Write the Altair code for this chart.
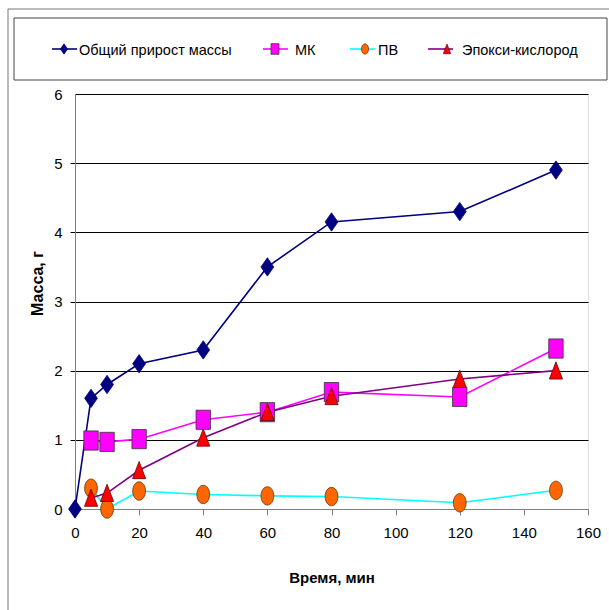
import altair as alt
import pandas as pd

# --- data ---------------------------------------------------------------
series_names = ["Общий прирост массы", "МК", "ПВ", "Эпокси-кислород"]

time_total = [0, 5, 10, 20, 40, 60, 80, 120, 150]
mass_total = [0.0, 1.6, 1.8, 2.1, 2.3, 3.5, 4.15, 4.3, 4.9]

time_parts = [5, 10, 20, 40, 60, 80, 120, 150]
mass_mk = [0.99, 0.97, 1.01, 1.29, 1.40, 1.69, 1.62, 2.32]
mass_pv = [0.30, 0.0, 0.26, 0.21, 0.19, 0.18, 0.09, 0.27]
mass_epoxy = [0.16, 0.23, 0.56, 1.03, 1.40, 1.63, 1.88, 2.0]

x_ticks = [0, 20, 40, 60, 80, 100, 120, 140, 160]
y_ticks = [0, 1, 2, 3, 4, 5, 6]

# --- styling --------------------------------------------------------------
FONT = "Liberation Sans, Arial, sans-serif"
line_colors = ["#000080", "#FF00FF", "#00FFFF", "#800080"]
marker_fills = ["#000080", "#FF00FF", "#FF6600", "#FF0000"]
marker_strokes = ["#000080", "#333333", "#663300", "#660000"]
# marker outlines (unit box, slightly taller than wide)
marker_paths = [
    "M0,-1.15L0.8,0L0,1.15L-0.8,0Z",
    "M-0.9,-1.2L0.9,-1.2L0.9,1.2L-0.9,1.2Z",
    "M0,-1.15A0.8,1.15 0 1,1 0,1.15A0.8,1.15 0 1,1 0,-1.15Z",
    "M0,-1.1L0.82,1.05L-0.82,1.05Z",
]

W, H = 513, 415

rows = []
for t, m in zip(time_total, mass_total):
    rows.append({"series": series_names[0], "t": t, "m": m})
for name, vals in zip(series_names[1:], [mass_mk, mass_pv, mass_epoxy]):
    for t, m in zip(time_parts, vals):
        rows.append({"series": name, "t": t, "m": m})
df = pd.DataFrame(rows)

line_scale = alt.Scale(domain=series_names, range=line_colors)
fill_scale = alt.Scale(domain=series_names, range=marker_fills)
stroke_scale = alt.Scale(domain=series_names, range=marker_strokes)
shape_scale = alt.Scale(domain=series_names, range=marker_paths)

x_enc = alt.X(
    "t:Q",
    scale=alt.Scale(domain=[0, 160], nice=False, zero=False),
    axis=alt.Axis(
        values=x_ticks, grid=False, title="Время, мин", format="d",
        labelFlush=False,
        domainColor="#808080", tickColor="#808080", tickSize=6,
        labelFont=FONT, labelFontSize=15, labelColor="black", labelPadding=10,
        titleFont=FONT, titleFontSize=15, titleFontWeight="bold",
        titleColor="black", titleY=73, titleBaseline="alphabetic",
    ),
)
y_enc = alt.Y(
    "m:Q",
    scale=alt.Scale(domain=[0, 6], nice=False),
    axis=alt.Axis(
        values=y_ticks, grid=True, title="Масса, г", format="d",
        labelFlush=False,
        gridColor={"condition": {"test": "datum.value == 0", "value": "#808080"},
                   "value": "#000000"},
        gridWidth=1,
        domainColor="#808080", tickColor="#000000", tickSize=5,
        tickOpacity={"condition": {"test": "datum.value == 6", "value": 0},
                     "value": 1},
        labelFont=FONT, labelFontSize=15, labelColor="black", labelPadding=8,
        titleFont=FONT, titleFontSize=16, titleFontWeight="bold",
        titleColor="black", titleX=-33, titleY=189, titleAngle=270,
        titleAlign="center", titleBaseline="alphabetic",
    ),
)

base = alt.Chart(df)

lines = base.mark_line(strokeWidth=1.6).encode(
    x=x_enc, y=y_enc,
    color=alt.Color("series:N", scale=line_scale, legend=None),
)

points = base.mark_point(filled=True, size=256, strokeWidth=0.8, opacity=1).encode(
    x="t:Q", y="m:Q",
    shape=alt.Shape("series:N", scale=shape_scale, legend=None),
    fill=alt.Fill("series:N", scale=fill_scale, legend=None),
    stroke=alt.Stroke("series:N", scale=stroke_scale, legend=None),
)

# --- legend box with line + marker samples --------------------------------
leg_line_x = [-23, 188, 275, 353]
leg_mark_x = [-11, 200, 290, 372]
leg_text_x = [4, 220, 303, 387]
leg = pd.DataFrame({
    "series": series_names,
    "x1": leg_line_x,
    "x2": [v + 25 for v in leg_line_x],
    "xm": leg_mark_x,
    "xt": leg_text_x,
    "y": [-45] * 4,
    "yt": [-43] * 4,
})
leg_chart = alt.Chart(leg)
leg_lines = leg_chart.mark_rule(strokeWidth=1.6).encode(
    x=alt.X("x1:Q", scale=None), x2="x2:Q", y=alt.Y("y:Q", scale=None),
    color=alt.Color("series:N", scale=line_scale, legend=None),
)
leg_marks = leg_chart.mark_point(filled=True, size=80, strokeWidth=0.7, opacity=1).encode(
    x=alt.X("xm:Q", scale=None), y=alt.Y("y:Q", scale=None),
    shape=alt.Shape("series:N", scale=shape_scale, legend=None),
    fill=alt.Fill("series:N", scale=fill_scale, legend=None),
    stroke=alt.Stroke("series:N", scale=stroke_scale, legend=None),
)
leg_text = leg_chart.mark_text(
    align="left", baseline="middle", font=FONT, fontSize=14.5, color="black"
).encode(
    x=alt.X("xt:Q", scale=None), y=alt.Y("yt:Q", scale=None), text="series:N",
)

frame_df = pd.DataFrame({"k": [0]})
outer_frame = alt.Chart(frame_df).mark_rect(
    fill="white", fillOpacity=0, stroke="#777777", strokeWidth=1
).encode(
    x=alt.value(-67), y=alt.value(-85), x2=alt.value(700), y2=alt.value(700)
)
legend_box = alt.Chart(frame_df).mark_rect(
    fill="white", fillOpacity=0, stroke="#444444", strokeWidth=1
).encode(
    x=alt.value(-61), y=alt.value(-76), x2=alt.value(532), y2=alt.value(-14)
)

chart = alt.layer(
    outer_frame, legend_box, lines, points, leg_lines, leg_marks, leg_text
).properties(
    width=W, height=H,
    autosize=alt.AutoSizeParams(type="none"),
    padding={"left": 75, "top": 94, "right": 609 - 75 - W, "bottom": 610 - 94 - H},
).configure_view(stroke=None).configure(background="white")

chart.save("out.html", embed_options={"renderer": "svg", "actions": False})
